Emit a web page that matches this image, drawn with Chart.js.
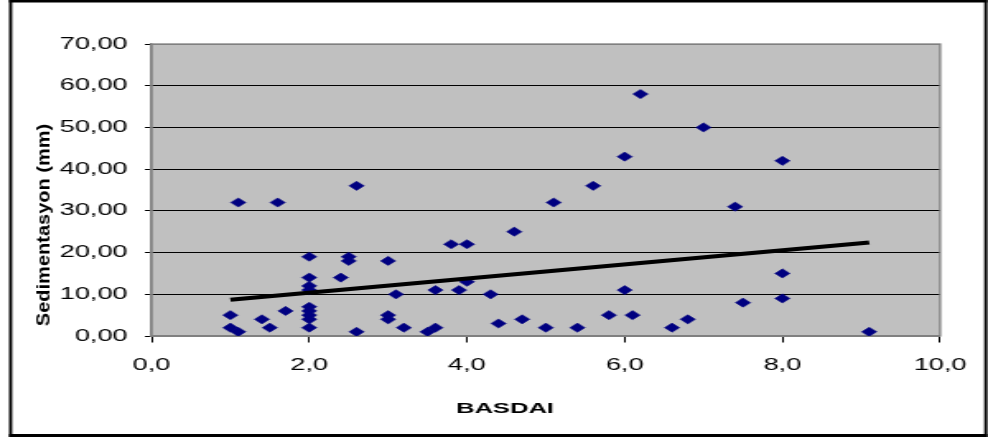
<!DOCTYPE html>
<html>
<head>
<meta charset="utf-8">
<script src="https://cdn.jsdelivr.net/npm/chart.js@4.4.1/dist/chart.umd.min.js"></script>
<style>
  html, body { margin: 0; padding: 0; background: #ffffff; overflow: hidden; }
  #wrap { width: 600px; height: 439px; transform: scaleX(1.6466667); transform-origin: 0 0; }
</style>
</head>
<body>
<div id="wrap"><canvas id="c" width="600" height="439" style="display:block;width:600px;height:439px"></canvas></div>
<script>
// ---- data ----
const basdai = [1.0, 1.0, 1.1, 1.1, 1.4, 1.5, 1.6, 1.7,
  2.0, 2.0, 2.0, 2.0, 2.0, 2.0, 2.0, 2.0, 2.0,
  2.4, 2.5, 2.5, 2.6, 2.6, 3.0, 3.0, 3.0, 3.1, 3.2, 3.5, 3.6, 3.6,
  3.8, 3.9, 4.0, 4.0, 4.3, 4.4, 4.6, 4.7, 5.0, 5.1, 5.4, 5.6, 5.8,
  6.0, 6.0, 6.1, 6.2, 6.6, 6.8, 7.0, 7.4, 7.5, 8.0, 8.0, 8.0, 9.1];
const sedimentasyon = [5, 2, 1, 32, 4, 2, 32, 6,
  19, 14, 12, 11, 7, 6, 5, 4, 2,
  14, 19, 18, 36, 1, 18, 5, 4, 10, 2, 1, 2, 11,
  22, 11, 22, 13, 10, 3, 25, 4, 2, 32, 2, 36, 5,
  43, 11, 5, 58, 2, 4, 50, 31, 8, 42, 15, 9, 1];
const trendX = [1.0, 9.1];
const trendY = [8.7, 22.4];
const xTickLabels = ['0,0', '2,0', '4,0', '6,0', '8,0', '10,0'];
const yTickLabels = ['0,00', '10,00', '20,00', '30,00', '40,00', '50,00', '60,00', '70,00'];
const xTitle = 'BASDAI';
const yTitle = 'Sedimentasyon (mm)';

const STRETCH = 988 / 600; // the reference is stretched horizontally
const FONT = '"Liberation Sans", Arial, sans-serif';

const points = basdai.map((x, i) => ({ x: x, y: sedimentasyon[i] }));
const trend = trendX.map((x, i) => ({ x: x, y: trendY[i] }));

const framePlugin = {
  id: 'framePlugin',
  beforeDraw(chart) {
    const { ctx, chartArea: a } = chart;
    ctx.save();
    ctx.fillStyle = '#ffffff';
    ctx.fillRect(0, 0, chart.width, chart.height);
    ctx.fillStyle = '#c0c0c0';
    ctx.fillRect(a.left, a.top, a.right - a.left, a.bottom - a.top);
    ctx.restore();
  },
  beforeDatasetsDraw(chart) {
    const { ctx, chartArea: a } = chart;
    ctx.save();
    ctx.strokeStyle = '#808080';
    ctx.lineWidth = 1.3;
    ctx.strokeRect(a.left, a.top, a.right - a.left, a.bottom - a.top);
    ctx.restore();
  },
  afterDraw(chart) {
    const { ctx } = chart;
    ctx.save();
    // outer black frame
    ctx.fillStyle = '#000000';
    ctx.fillRect(5.5, 0, 594, 2.5);
    ctx.fillRect(5.5, 434, 594, 3);
    ctx.fillRect(5.5, 0, 1.9, 437);
    ctx.fillRect(597.7, 0, 1.9, 437);
    // x title
    ctx.fillStyle = '#000000';
    ctx.font = 'bold 15.5px ' + FONT;
    ctx.textAlign = 'center';
    ctx.textBaseline = 'alphabetic';
    ctx.fillText(xTitle, 505 / STRETCH, 413);
    // y title (rotated, not stretched)
    ctx.translate(50 / STRETCH, 225);
    ctx.scale(0.95 / STRETCH, 1);
    ctx.rotate(-Math.PI / 2);
    ctx.font = 'bold 20px ' + FONT;
    ctx.fillText(yTitle, 0, 0);
    ctx.restore();
  }
};

new Chart(document.getElementById('c'), {
  type: 'scatter',
  data: {
    datasets: [
      {
        label: 'Sedimentasyon',
        data: points,
        pointStyle: 'rectRot',
        pointRadius: 4.6,
        pointHoverRadius: 4.6,
        backgroundColor: '#000080',
        borderColor: '#000080',
        borderWidth: 0.5,
        order: 1
      },
      {
        type: 'line',
        label: 'Trend',
        data: trend,
        borderColor: '#000000',
        borderWidth: 4,
        pointRadius: 0,
        fill: false,
        tension: 0,
        order: 0
      }
    ]
  },
  options: {
    responsive: false,
    animation: false,
    devicePixelRatio: 1,
    events: [],
    layout: { padding: { left: 0, right: 600 - 944 / STRETCH, top: 44, bottom: 0 } },
    plugins: { legend: { display: false }, tooltip: { enabled: false }, title: { display: false } },
    scales: {
      x: {
        type: 'linear',
        min: 0, max: 10,
        afterFit(s) { s.height = 439 - 336; },
        ticks: {
          stepSize: 2,
          color: '#000000',
          font: { family: FONT, size: 16.5 },
          padding: 13,
          maxRotation: 0,
          autoSkip: false,
          callback: (v, i) => xTickLabels[i]
        },
        grid: { drawOnChartArea: false, drawTicks: true, tickLength: 6.5, tickColor: '#000000', tickWidth: 1 },
        border: { display: true, color: '#808080', width: 1.3 }
      },
      y: {
        type: 'linear',
        min: 0, max: 70,
        afterFit(s) { s.width = 151.5 / STRETCH; },
        ticks: {
          stepSize: 10,
          color: '#000000',
          font: { family: FONT, size: 16.5 },
          padding: 10.5,
          autoSkip: false,
          callback: (v, i) => yTickLabels[i]
        },
        grid: {
          drawOnChartArea: true, drawTicks: true, tickLength: 4,
          color: (c) => (c.tick && (c.tick.value === 0 || c.tick.value === 70)) ? '#808080' : '#000000',
          tickColor: '#000000',
          lineWidth: 1
        },
        border: { display: true, color: '#808080', width: 1.3 }
      }
    }
  },
  plugins: [framePlugin]
});
</script>
</body>
</html>
